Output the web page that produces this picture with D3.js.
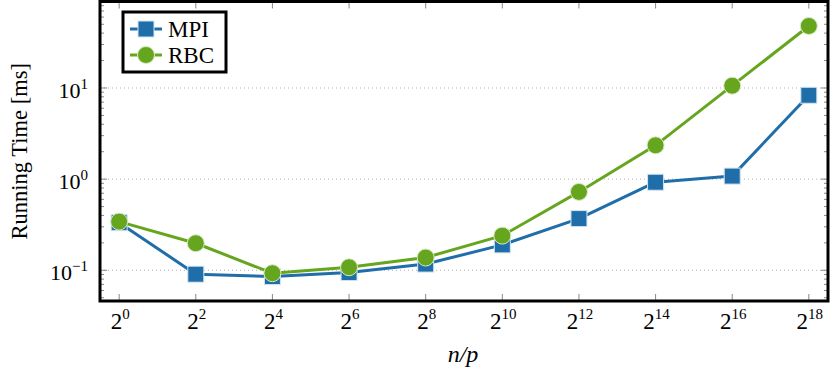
<!DOCTYPE html>
<html>
<head>
  <meta charset="UTF-8">
  <style>
    body { margin: 0; background: white; }
  </style>
</head>
<body>
<svg></svg>
<script src="https://d3js.org/d3.v7.min.js"></script>
<script>
let width = 830, height = 375;

// data: x exponents (n/p = 2^k) and running times in ms
let exponents = [0, 2, 4, 6, 8, 10, 12, 14, 16, 18];
let mpiTimes = [0.333, 0.0906, 0.0853, 0.0944, 0.117, 0.190, 0.369, 0.925, 1.08, 8.32];
let rbcTimes = [0.342, 0.198, 0.0929, 0.108, 0.138, 0.240, 0.724, 2.35, 10.6, 47.9];
let yTickExps = [-1, 0, 1];
let seriesNames = ["MPI", "RBC"];
let seriesColors = ["#1f6eaa", "#66a61e"];

let plotLeft = 100, plotRight = 828, plotTop = 1.5, plotBottom = 301;
let serif = "'Liberation Serif', 'Times New Roman', 'DejaVu Serif', serif";

let svg = d3.select("svg")
    .attr("width", width).attr("height", height)
    .style("display", "block")
    .attr("font-family", serif);

let x = d3.scaleLog().base(2)
    .domain([Math.pow(2, -0.5), Math.pow(2, 18.5)])
    .range([plotLeft, plotRight]);

let y = d3.scaleLog()
    .domain([Math.pow(10, -1.337), Math.pow(10, 1.949)])
    .range([plotBottom, plotTop]);

// grid lines at decades
svg.append("g").selectAll("line")
  .data(yTickExps)
  .enter().append("line")
  .attr("x1", plotLeft).attr("x2", plotRight)
  .attr("y1", d => y(Math.pow(10, d))).attr("y2", d => y(Math.pow(10, d)))
  .attr("stroke", "#b0b0b0")
  .attr("stroke-width", 1)
  .attr("stroke-dasharray", "1,3");

// minor y ticks (log 2..9 in each decade)
let minor = [];
for (let e = -2; e <= 1; e++) {
  for (let m = 2; m <= 9; m++) {
    let v = m * Math.pow(10, e);
    if (y(v) > plotTop && y(v) < plotBottom) minor.push(v);
  }
}
let tickColor = "#888";
let ticks = svg.append("g").attr("stroke", tickColor).attr("stroke-width", 1);
minor.forEach(v => {
  ticks.append("line").attr("x1", plotLeft).attr("x2", plotLeft + 4).attr("y1", y(v)).attr("y2", y(v));
  ticks.append("line").attr("x1", plotRight).attr("x2", plotRight - 4).attr("y1", y(v)).attr("y2", y(v));
});
yTickExps.forEach(e => {
  let yy = y(Math.pow(10, e));
  ticks.append("line").attr("x1", plotLeft).attr("x2", plotLeft + 7).attr("y1", yy).attr("y2", yy);
  ticks.append("line").attr("x1", plotRight).attr("x2", plotRight - 7).attr("y1", yy).attr("y2", yy);
});
exponents.forEach(k => {
  let xx = x(Math.pow(2, k));
  ticks.append("line").attr("x1", xx).attr("x2", xx).attr("y1", plotBottom).attr("y2", plotBottom - 7);
  ticks.append("line").attr("x1", xx).attr("x2", xx).attr("y1", plotTop).attr("y2", plotTop + 7);
});

// y tick labels
let yLabels = svg.append("g").attr("font-size", 22).attr("text-anchor", "end");
yTickExps.forEach(e => {
  let t = yLabels.append("text")
      .attr("x", 88)
      .attr("y", y(Math.pow(10, e)) + 10);
  t.append("tspan").text("10");
  t.append("tspan").attr("dy", -9).attr("font-size", 15)
      .text(e < 0 ? "\u2212" + (-e) : String(e));
});

// x tick labels
let xLabels = svg.append("g").attr("font-size", 23).attr("text-anchor", "middle");
exponents.forEach(k => {
  let t = xLabels.append("text")
      .attr("x", x(Math.pow(2, k)) + 1)
      .attr("y", 329);
  t.append("tspan").text("2");
  t.append("tspan").attr("dy", -10).attr("font-size", 15).text(String(k));
});

// axis titles
svg.append("text")
    .attr("transform", "translate(27," + ((plotTop + plotBottom) / 2) + ") rotate(-90)")
    .attr("text-anchor", "middle")
    .attr("font-size", 22.5)
    .text("Running Time [ms]");

svg.append("text")
    .attr("x", (plotLeft + plotRight) / 2 - 1)
    .attr("y", 362)
    .attr("text-anchor", "middle")
    .attr("font-size", 24)
    .attr("font-style", "italic")
    .text("n/p");

// series
let allSeries = [mpiTimes, rbcTimes];
let line = d3.line()
    .x((d, i) => x(Math.pow(2, exponents[i])))
    .y(d => y(d));

function drawMarker(g, kind, cx, cy, color) {
  if (kind === 0) {
    g.append("rect")
        .attr("x", cx - 8).attr("y", cy - 8)
        .attr("width", 16).attr("height", 16)
        .attr("fill", color)
        .attr("stroke", "#d5e4f0").attr("stroke-width", 1);
  } else {
    g.append("circle")
        .attr("cx", cx).attr("cy", cy).attr("r", 8.5)
        .attr("fill", color)
        .attr("stroke", "#d9e9c6").attr("stroke-width", 1);
  }
}

allSeries.forEach((vals, s) => {
  let g = svg.append("g");
  g.append("path")
      .datum(vals)
      .attr("d", line)
      .attr("fill", "none")
      .attr("stroke", seriesColors[s])
      .attr("stroke-width", 3)
      .attr("stroke-linejoin", "round");
  vals.forEach((v, i) => drawMarker(g, s, x(Math.pow(2, exponents[i])), y(v), seriesColors[s]));
});

// frame
svg.append("rect")
    .attr("x", plotLeft).attr("y", plotTop)
    .attr("width", plotRight - plotLeft).attr("height", plotBottom - plotTop)
    .attr("fill", "none")
    .attr("stroke", "black")
    .attr("stroke-width", 3);

// legend
let legend = svg.append("g");
legend.append("rect")
    .attr("x", 123).attr("y", 12)
    .attr("width", 103).attr("height", 60)
    .attr("fill", "white")
    .attr("stroke", "black")
    .attr("stroke-width", 3);
seriesNames.forEach((name, s) => {
  let ly = 29 + s * 26;
  legend.append("line")
      .attr("x1", 130).attr("x2", 162)
      .attr("y1", ly).attr("y2", ly)
      .attr("stroke", seriesColors[s]).attr("stroke-width", 3);
  drawMarker(legend, s, 146, ly, seriesColors[s]);
  legend.append("text")
      .attr("x", 168).attr("y", ly + 7.5)
      .attr("font-size", 23)
      .text(name);
});
</script>
</body>
</html>
